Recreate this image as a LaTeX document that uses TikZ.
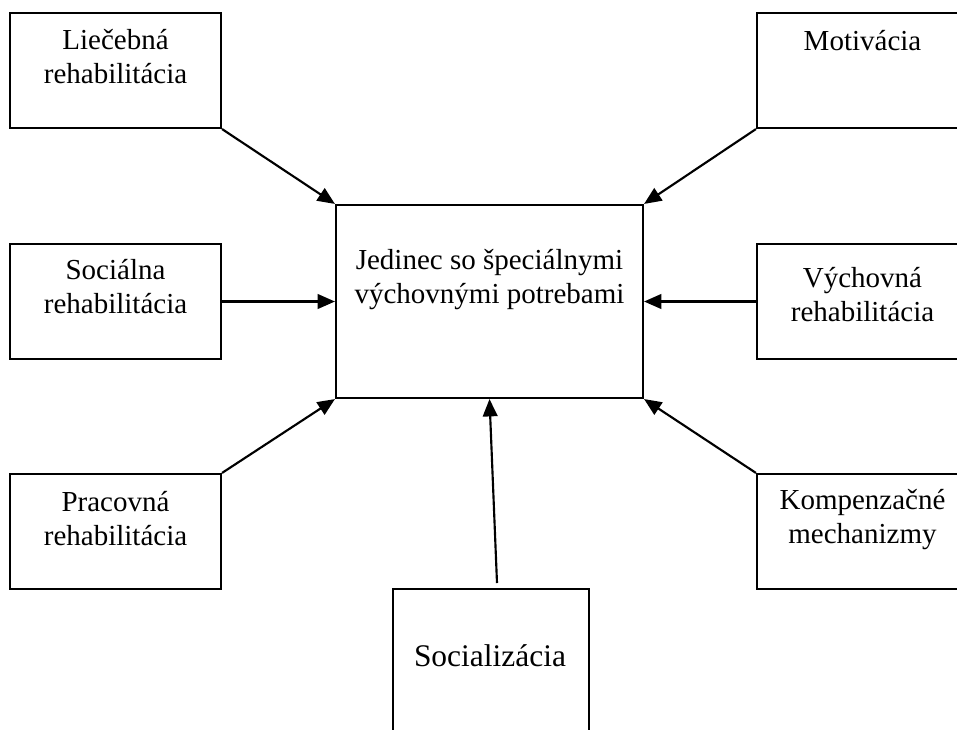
\documentclass[tikz,border=0pt]{standalone}
\usepackage{fontspec}
\setmainfont{Liberation Serif}
\usetikzlibrary{arrows.meta}
\newcommand{\lblfont}{\fontsize{21.75pt}{25pt}\selectfont}
\newcommand{\bigfont}{\fontsize{23.6pt}{27pt}\selectfont}
\begin{document}
\begin{tikzpicture}[x=0.75pt,y=-0.75pt,
  box/.style={draw=black, line width=1.6pt, rectangle, inner sep=0pt, minimum width=158.25pt, minimum height=86.25pt},
  cbox/.style={draw=black, line width=1.6pt, rectangle, inner sep=0pt, minimum width=230.25pt, minimum height=144.75pt},
  sbox/.style={draw=black, line width=1.6pt, rectangle, inner sep=0pt, minimum width=147pt, minimum height=150pt},
  lbl/.style={font=\lblfont, align=center, anchor=base, inner sep=0pt},
  conn/.style={line width=1.6pt, -{Triangle[length=13pt,width=11pt]}}]
\useasboundingbox (0,0) rectangle (957,729);
\clip (0,0) rectangle (957,729);
% boxes
\node[box] (lie) at (115.5,70.5) {};
\node[box] (soc) at (115.5,301.5) {};
\node[box] (pra) at (115.5,531.5) {};
\node[box] (mot) at (862.5,70.5) {};
\node[box] (vych) at (862.5,301.5) {};
\node[box] (komp) at (862.5,531.5) {};
\node[cbox] (cen) at (489.5,301.5) {};
\node[sbox] (soz) at (491,689) {};
% texts (anchor base = baseline of the last line)
\node[lbl] (tlie) at (115.5,83) {Liečebná\\rehabilitácia};
\node[lbl] (tsoc) at (115.5,313) {Sociálna\\rehabilitácia};
\node[lbl] (tpra) at (115.5,545) {Pracovná\\rehabilitácia};
\node[lbl] (tmot) at (862.5,50) {Motivácia};
\node[lbl] (tvych) at (862.5,321) {Výchovná\\rehabilitácia};
\node[lbl] (tkomp) at (862.5,543) {Kompenzačné\\mechanizmy};
\node[lbl] (tcen) at (489.5,303) {Jedinec so špeciálnymi\\výchovnými potrebami};
\node[lbl, font=\bigfont] (tsoz) at (490,666) {Socializácia};
% connectors
\coordinate (sozstart) at (497,583);
\draw[conn] (lie.south east) -- (cen.north west);
\draw[conn] (mot.south west) -- (cen.north east);
\draw[conn] (soc.east) -- (soc.east -| cen.west);
\draw[conn] (vych.west) -- (vych.west -| cen.east);
\draw[conn] (pra.north east) -- (cen.south west);
\draw[conn] (komp.north west) -- (cen.south east);
\draw[conn] (sozstart) -- (cen.south);
\end{tikzpicture}
\end{document}
